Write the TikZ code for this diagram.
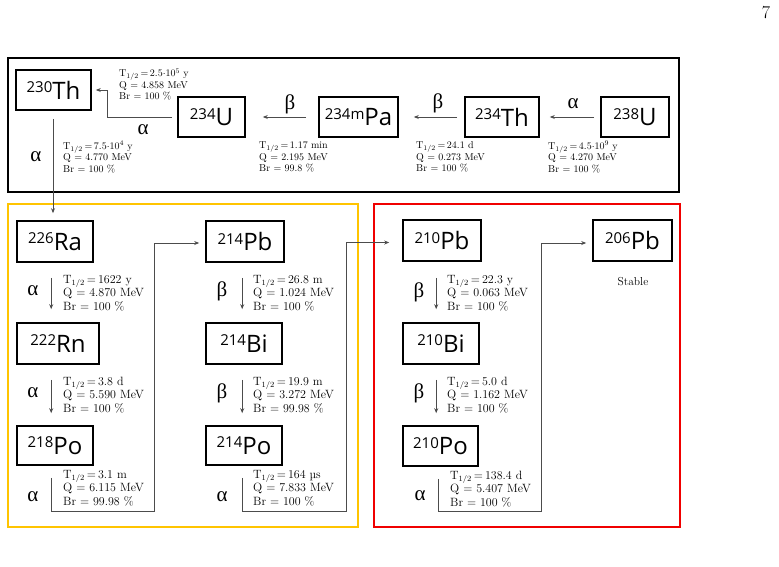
\documentclass[tikz,border=0pt]{standalone}
\usepackage{fontspec}
\usetikzlibrary{arrows.meta,calc}
\newfontfamily\isofont{Open Sans}
\newfontfamily\grkfont{Liberation Serif}
\newcommand\iso[2]{{\isofont\fontsize{15}{15}\selectfont\raisebox{6.5pt}{#1}\fontsize{24}{24}\selectfont #2}}
\newcommand\thalf{T$_{1/2}$\,=\,}
\definecolor{gold}{RGB}{255,196,0}
\definecolor{redbox}{RGB}{240,0,0}
\tikzset{
  isobox/.style={draw=black,line width=1.6pt,inner sep=0pt,minimum height=40pt},
  arr/.style={draw=black!70,line width=0.8pt,-{Stealth[length=5pt,width=4pt]}},
  conn/.style={draw=black!70,line width=0.8pt},
  capbig/.style={anchor=west,inner sep=0pt,align=left,font=\fontsize{12}{13.3}\selectfont,text=black},
  capsmall/.style={anchor=west,inner sep=0pt,align=left,font=\fontsize{10}{11.5}\selectfont,text=black},
  greek/.style={inner sep=0pt,font=\grkfont\fontsize{21}{21}\selectfont},
  frame/.style={line width=1.8pt}
}
\begin{document}
\begin{tikzpicture}[x=1pt,y=-1pt]
\useasboundingbox (0,0) rectangle (779,566);
% page number
\node[inner sep=0pt,font=\fontsize{18}{18}\selectfont] (pg) at (766,13) {7};
% frames
\draw[frame,draw=black] (8,58) rectangle (679,192);
\draw[frame,draw=gold] (8,204) rectangle (358,527);
\draw[frame,draw=redbox] (374,204) rectangle (680,527);
% top row nodes
\node[isobox,minimum width=75pt] (Th230) at (53.5,90) {\iso{230}{Th}};
\node[isobox,minimum width=67pt] (U234) at (211.5,117) {\iso{234}{U}};
\node[isobox,minimum width=79pt] (Pa234) at (358.5,117) {\iso{234m}{Pa}};
\node[isobox,minimum width=74pt] (Th234) at (502,117) {\iso{234}{Th}};
\node[isobox,minimum width=68pt] (U238) at (635,117) {\iso{238}{U}};
% top arrows
\draw[arr,shorten <=6pt,shorten >=10pt] (U238) -- (Th234);
\draw[arr,shorten <=7pt,shorten >=15pt] (Th234) -- (Pa234);
\draw[arr,shorten <=12pt,shorten >=17pt] (Pa234) -- (U234);
\draw[arr] ($(U234.west)+(-5,0)$) -| ($(Th230.east)+(16,0)$) -- ($(Th230.east)+(4,0)$);
\node[greek] (aU238) at (573,104) {α};
\node[greek] (bTh234) at (438,103) {β};
\node[greek] (bPa234) at (290,104) {β};
\node[greek] (aU234) at (143,130) {α};
\node[greek] (aTh230) at (36,157) {α};
% top captions
\node[capsmall] (cU234) at (119,84.5) {\thalf 2.5$\cdot$10$^5$ y\\Q = 4.858 MeV\\Br = 100 \%};
\node[capsmall] (cTh230) at (63,157) {\thalf 7.5$\cdot$10$^4$ y\\Q = 4.770 MeV\\Br = 100 \%};
\node[capsmall] (cPa234) at (259,157) {\thalf 1.17 min\\Q = 2.195 MeV\\Br = 99.8 \%};
\node[capsmall] (cTh234) at (416,157) {\thalf 24.1 d\\Q = 0.273 MeV\\Br = 100 \%};
\node[capsmall] (cU238) at (548,157) {\thalf 4.5$\cdot$10$^9$ y\\Q = 4.270 MeV\\Br = 100 \%};
% yellow box nodes
\node[isobox,minimum width=76pt,minimum height=41pt] (Ra226) at (55,241.5) {\iso{226}{Ra}};
\node[isobox,minimum width=82pt,minimum height=41pt] (Rn222) at (58,343.5) {\iso{222}{Rn}};
\node[isobox,minimum width=76pt,minimum height=39pt] (Po218) at (55,445.5) {\iso{218}{Po}};
\node[isobox,minimum width=78pt,minimum height=41pt] (Pb214) at (245,241.5) {\iso{214}{Pb}};
\node[isobox,minimum width=76pt,minimum height=41pt] (Bi214) at (244,343.5) {\iso{214}{Bi}};
\node[isobox,minimum width=76pt,minimum height=39pt] (Po214) at (244,445.5) {\iso{214}{Po}};
% red box nodes
\node[isobox,minimum width=78pt,minimum height=41pt] (Pb210) at (442,240.5) {\iso{210}{Pb}};
\node[isobox,minimum width=76pt,minimum height=41pt] (Bi210) at (441,343.5) {\iso{210}{Bi}};
\node[isobox,minimum width=75pt,minimum height=40pt] (Po210) at (440.5,446) {\iso{210}{Po}};
\node[isobox,minimum width=79pt,minimum height=41pt] (Pb206) at (632.5,240.5) {\iso{206}{Pb}};
% connectors
\draw[arr] ($(Th230.south)+(-0.5,8)$) -- ($(Th230.south|-Ra226.north)+(-0.5,-7)$);
\draw[arr] ($(Ra226.south west)+(35,15)$) -- ($(Rn222.north west)+(35,-13)$);
\draw[arr] ($(Rn222.south west)+(35,15)$) -- ($(Po218.north west)+(35,-12)$);
\draw[arr] ($(Po218.south west)+(35,12)$) -- ++(0,34) -| ($(Pb214.west)+(-51,1.5)$) -- ($(Pb214.west)+(-6,1.5)$);
\draw[arr] ($(Pb214.south west)+(37,15)$) -- ($(Bi214.north west)+(37,-13)$);
\draw[arr] ($(Bi214.south west)+(37,15)$) -- ($(Po214.north west)+(37,-12)$);
\draw[arr] ($(Po214.south west)+(37,12)$) -- ++(0,34) -| ($(Pb210.west)+(-56,2)$) -- ($(Pb210.west)+(-13,2)$);
\draw[arr] ($(Pb210.south west)+(34,16)$) -- ($(Bi210.north west)+(34,-13)$);
\draw[arr] ($(Bi210.south west)+(34,15)$) -- ($(Po210.north west)+(34,-12)$);
\draw[arr] ($(Po210.south west)+(36,12)$) -- ++(0,33) -| ($(Pb206.west)+(-51,2.5)$) -- ($(Pb206.west)+(-6,2.5)$);
% greek labels
\node[greek] (aRa) at (33,291) {α};
\node[greek] (aRn) at (33,393) {α};
\node[greek] (aPo218) at (33,497) {α};
\node[greek] (bPb214) at (222,291) {β};
\node[greek] (bBi214) at (222,393) {β};
\node[greek] (aPo214) at (222,497) {α};
\node[greek] (bPb210) at (419,292) {β};
\node[greek] (bBi210) at (419,393) {β};
\node[greek] (aPo210) at (420,496) {α};
% captions
\node[capbig] (cRa) at (63,293) {\thalf 1622 y\\Q = 4.870 MeV\\Br = 100 \%};
\node[capbig] (cRn) at (63,395) {\thalf 3.8 d\\Q = 5.590 MeV\\Br = 100 \%};
\node[capbig] (cPo218) at (63,488) {\thalf 3.1 m\\Q = 6.115 MeV\\Br = 99.98 \%};
\node[capbig] (cPb214) at (253,293) {\thalf 26.8 m\\Q = 1.024 MeV\\Br = 100 \%};
\node[capbig] (cBi214) at (253,395) {\thalf 19.9 m\\Q = 3.272 MeV\\Br = 99.98 \%};
\node[capbig] (cPo214) at (253,488) {\thalf 164 µs\\Q = 7.833 MeV\\Br = 100 \%};
\node[capbig] (cPb210) at (447,293) {\thalf 22.3 y\\Q = 0.063 MeV\\Br = 100 \%};
\node[capbig] (cBi210) at (447,395) {\thalf 5.0 d\\Q = 1.162 MeV\\Br = 100 \%};
\node[capbig] (cPo210) at (450,489) {\thalf 138.4 d\\Q = 5.407 MeV\\Br = 100 \%};
\node[inner sep=0pt,font=\fontsize{11.5}{12}\selectfont,text=black] (stable) at (633,282) {Stable};
\end{tikzpicture}
\end{document}
